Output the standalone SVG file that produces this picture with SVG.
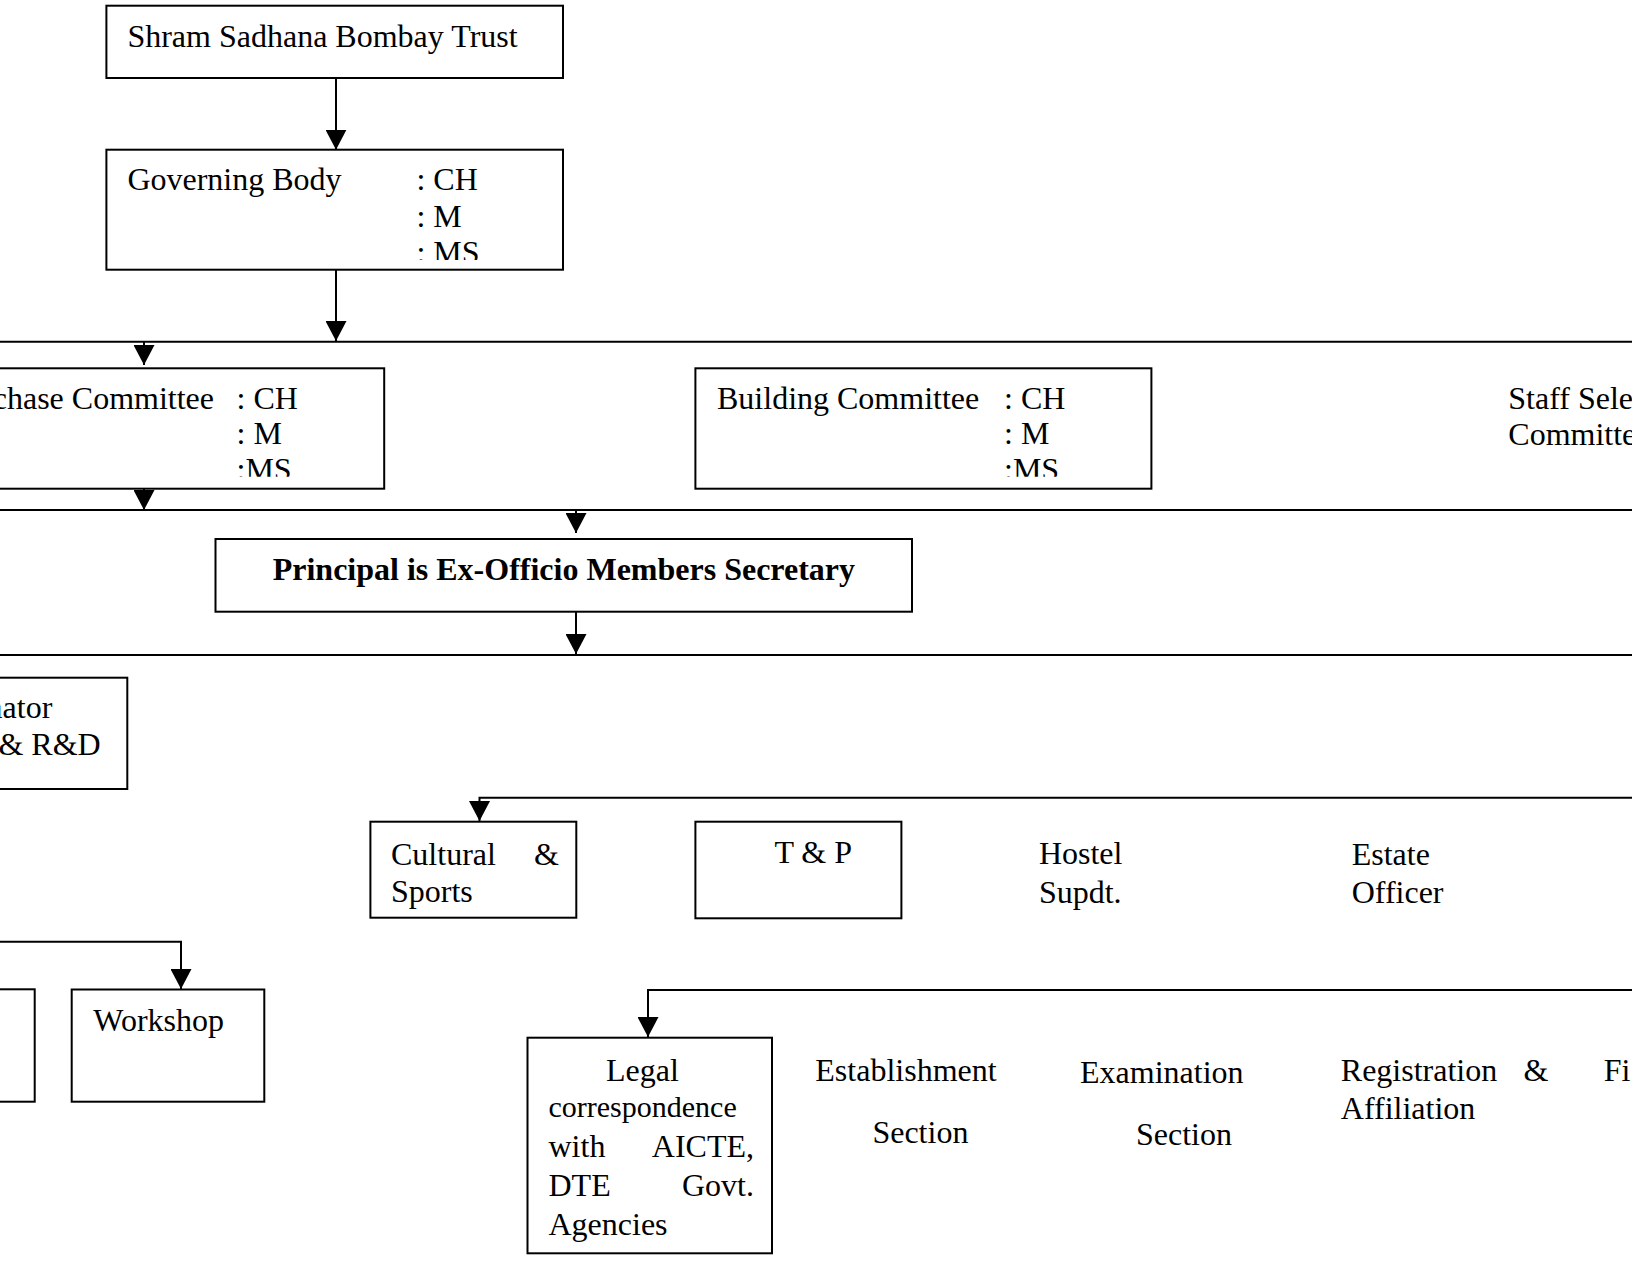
<svg xmlns="http://www.w3.org/2000/svg" width="1632" height="1268" viewBox="0 0 1632 1268">
<style>
.box{fill:#fff;stroke:#000;stroke-width:2}
.ln{fill:none;stroke:#000;stroke-width:2}
.t{font-family:"Liberation Serif","Times New Roman",serif;font-size:32px;fill:#000}
.b{font-family:"Liberation Serif","Times New Roman",serif;font-size:32px;font-weight:bold;fill:#000}
.s{font-size:30px}
</style>
<defs>
<marker id="ah" markerUnits="userSpaceOnUse" markerWidth="21" markerHeight="21" refX="20" refY="10.5" orient="auto">
<path d="M0,0 L20,10.5 L0,21 Z" fill="#000"/>
</marker>
<clipPath id="cGB"><rect x="100" y="150" width="460" height="110"/></clipPath>
<clipPath id="cPC"><rect x="-20" y="370" width="400" height="106.7"/></clipPath>
<clipPath id="cBC"><rect x="697" y="370" width="452" height="106.7"/></clipPath>
</defs>
<rect x="0" y="0" width="1632" height="1268" fill="#fff"/>

<g id="connectors">
<line class="ln" x1="0" y1="341.7" x2="1632" y2="341.7"/>
<line class="ln" x1="0" y1="510" x2="1632" y2="510"/>
<line class="ln" x1="0" y1="655" x2="1632" y2="655"/>
<line class="ln" x1="336" y1="78" x2="336" y2="149.7" marker-end="url(#ah)"/>
<line class="ln" x1="336" y1="269.7" x2="336" y2="341" marker-end="url(#ah)"/>
<line class="ln" x1="144" y1="341.7" x2="144" y2="365" marker-end="url(#ah)"/>
<line class="ln" x1="144" y1="485" x2="144" y2="510" marker-end="url(#ah)"/>
<line class="ln" x1="576" y1="510" x2="576" y2="533" marker-end="url(#ah)"/>
<line class="ln" x1="576" y1="605" x2="576" y2="654" marker-end="url(#ah)"/>
<path class="ln" d="M1632,797.7 H479.5 V821" marker-end="url(#ah)"/>
<path class="ln" d="M0,941.7 H181 V989" marker-end="url(#ah)"/>
<path class="ln" d="M1632,990 H648 V1037" marker-end="url(#ah)"/>
</g>

<g id="trust">
<rect class="box" x="106.4" y="5.7" width="456.6" height="72.3"/>
<text class="t" x="127.4" y="46.7">Shram Sadhana Bombay Trust</text>
</g>

<g id="governing-body">
<rect class="box" x="106.4" y="149.7" width="456.6" height="120"/>
<g clip-path="url(#cGB)">
<text class="t" x="127.4" y="190">Governing Body</text>
<text class="t" x="416.4" y="190">: CH</text>
<text class="t" x="416.4" y="226.7">: M</text>
<text class="t" x="416.4" y="263.4">: MS</text>
</g>
</g>

<g id="purchase-committee">
<rect class="box" x="-10" y="368.3" width="394.2" height="120.4"/>
<g clip-path="url(#cPC)">
<text class="t" x="214" y="409" text-anchor="end">chase Committee</text>
<text class="t" x="236.5" y="409">: CH</text>
<text class="t" x="236.5" y="444.3">: M</text>
<text class="t" x="236.5" y="480">:MS</text>
</g>
</g>

<g id="building-committee">
<rect class="box" x="695.4" y="368.3" width="456" height="120.4"/>
<g clip-path="url(#cBC)">
<text class="t" x="717" y="409">Building Committee</text>
<text class="t" x="1004" y="409">: CH</text>
<text class="t" x="1004" y="444.3">: M</text>
<text class="t" x="1004" y="480">:MS</text>
</g>
</g>

<g id="staff-selection">
<text class="t" x="1508.3" y="409.3">Staff Sele</text>
<text class="t" x="1508.3" y="445.3">Committe</text>
</g>

<g id="principal">
<rect class="box" x="215.5" y="539" width="696.5" height="72.7"/>
<text class="b" x="272.7" y="579.5">Principal is Ex-Officio Members Secretary</text>
</g>

<g id="coordinator">
<rect class="box" x="-10" y="677.7" width="137.3" height="111.3"/>
<text class="t" x="52.3" y="718.3" text-anchor="end">nator</text>
<text class="t" x="100.7" y="755" text-anchor="end">&amp; R&amp;D</text>
</g>

<g id="cultural-sports">
<rect class="box" x="370.4" y="821.7" width="205.9" height="96"/>
<text class="t" x="391" y="864.5">Cultural</text>
<text class="t" x="533.9" y="864.5">&amp;</text>
<text class="t" x="391" y="902">Sports</text>
</g>

<g id="tp">
<rect class="box" x="695.4" y="821.7" width="206" height="96.6"/>
<text class="t" x="774.4" y="863">T &amp; P</text>
</g>

<g id="hostel">
<text class="t" x="1038.9" y="863.5">Hostel</text>
<text class="t" x="1038.9" y="903">Supdt.</text>
</g>

<g id="estate">
<text class="t" x="1351.7" y="864.8">Estate</text>
<text class="t" x="1351.7" y="903.2">Officer</text>
</g>

<g id="left-box">
<rect class="box" x="-10" y="989.3" width="44.7" height="112.4"/>
</g>

<g id="workshop">
<rect class="box" x="71.7" y="989.5" width="192.6" height="112.2"/>
<text class="t" x="93.3" y="1030.7">Workshop</text>
</g>

<g id="legal">
<rect class="box" x="527.5" y="1037.7" width="244.5" height="215.6"/>
<text class="t" x="606" y="1081">Legal</text>
<text class="t s" x="548.5" y="1117">correspondence</text>
<text class="t" x="548.5" y="1157">with</text>
<text class="t" x="754" y="1157" text-anchor="end">AICTE,</text>
<text class="t" x="548.5" y="1195.5">DTE</text>
<text class="t" x="754" y="1195.5" text-anchor="end">Govt.</text>
<text class="t" x="548.5" y="1234.5">Agencies</text>
</g>

<g id="establishment">
<text class="t" x="815.3" y="1081.3">Establishment</text>
<text class="t" x="872.4" y="1143">Section</text>
</g>

<g id="examination">
<text class="t" x="1080" y="1082.7">Examination</text>
<text class="t" x="1136" y="1144.5">Section</text>
</g>

<g id="registration">
<text class="t" x="1340.8" y="1081.3">Registration</text>
<text class="t" x="1523.4" y="1081.3">&amp;</text>
<text class="t" x="1340.8" y="1119.3">Affiliation</text>
</g>

<g id="finance">
<text class="t" x="1603.8" y="1081">Fi</text>
</g>
</svg>
